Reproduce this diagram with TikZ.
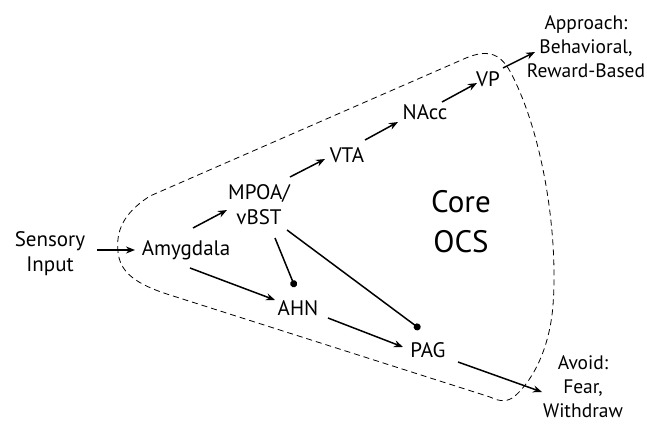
\documentclass[tikz,border=0pt]{standalone}
\usepackage{fontspec}
\setmainfont{PT Sans}
\usetikzlibrary{arrows.meta}
\begin{document}
\begin{tikzpicture}
		[x=1pt,y=-1pt,
		region/.style={font=\fontsize{21}{25}\selectfont, align=center, inner sep=0pt},
		outcome/.style={font=\fontsize{19.5}{24}\selectfont, align=center, inner sep=0pt},
		excite/.style={line width=1.5pt, -{Stealth[length=9pt,width=7pt]}},
		inhibit/.style={line width=1.5pt, -{Circle[length=7pt]}}]
		\useasboundingbox (0,0) rectangle (647,425);
		% boundary of the core
		\draw[line width=0.8pt, dash pattern=on 6pt off 4pt]
			(118,252) .. controls (116,232) and (122,214) .. (150,196) -- (466,58)
			.. controls (490,48) and (502,55) .. (512,75)
			.. controls (545,140) and (558,240) .. (553,305)
			.. controls (550,345) and (535,378) .. (515,396)
			.. controls (508,402) and (500,402) .. (490,397) -- (170,295)
			.. controls (135,284) and (120,272) .. (118,252) -- cycle;
		\node[font=\fontsize{31}{40}\selectfont, align=center] (core) at (461,222) {Core\\OCS};
		\node[region] (input) at (50,254) {Sensory\\Input};
		\node[region] (amy) at (186,250) {Amygdala};
		\node[region] (mpoa) at (259,205) {MPOA/\\vBST};
		\node[region] (vta) at (347,155) {VTA};
		\node[region] (nacc) at (425,112) {NAcc};
		\node[region] (vp) at (488,79) {VP};
		\node[outcome] (appr) at (586,47) {Approach:\\Behavioral,\\Reward-Based};
		\node[region] (ahn) at (298,308) {AHN};
		\node[region] (pag) at (428,350) {PAG};
		\node[outcome] (avoid) at (583,387) {Avoid:\\Fear,\\Withdraw};
		% excitatory paths
		\draw[excite] ([shift={(47,-4)}]input.center) -- ([shift={(-51,0)}]amy.center);
		\draw[excite] ([shift={(7,-22)}]amy.center) -- ([shift={(-32,5)}]mpoa.center);
		\draw[excite] ([shift={(31,-28)}]mpoa.center) -- ([shift={(-22,4)}]vta.center);
		\draw[excite] ([shift={(18,-15)}]vta.center) -- ([shift={(-27,10)}]nacc.center);
		\draw[excite] ([shift={(17,-10)}]nacc.center) -- ([shift={(-11,4)}]vp.center);
		\draw[excite] ([shift={(15,-11)}]vp.center) -- ([shift={(-51,5)}]appr.center);
		\draw[excite] ([shift={(4,18)}]amy.center) -- ([shift={(-23,-8)}]ahn.center);
		\draw[excite] ([shift={(30,10)}]ahn.center) -- ([shift={(-25,-3)}]pag.center);
		\draw[excite] ([shift={(30,12)}]pag.center) -- ([shift={(-41,5)}]avoid.center);
		% inhibitory paths
		\draw[inhibit] ([shift={(16,33)}]mpoa.center) -- ([shift={(-3,-21)}]ahn.center);
		\draw[inhibit] ([shift={(28,25)}]mpoa.center) -- ([shift={(-8,-21)}]pag.center);
	\end{tikzpicture}
\end{document}
